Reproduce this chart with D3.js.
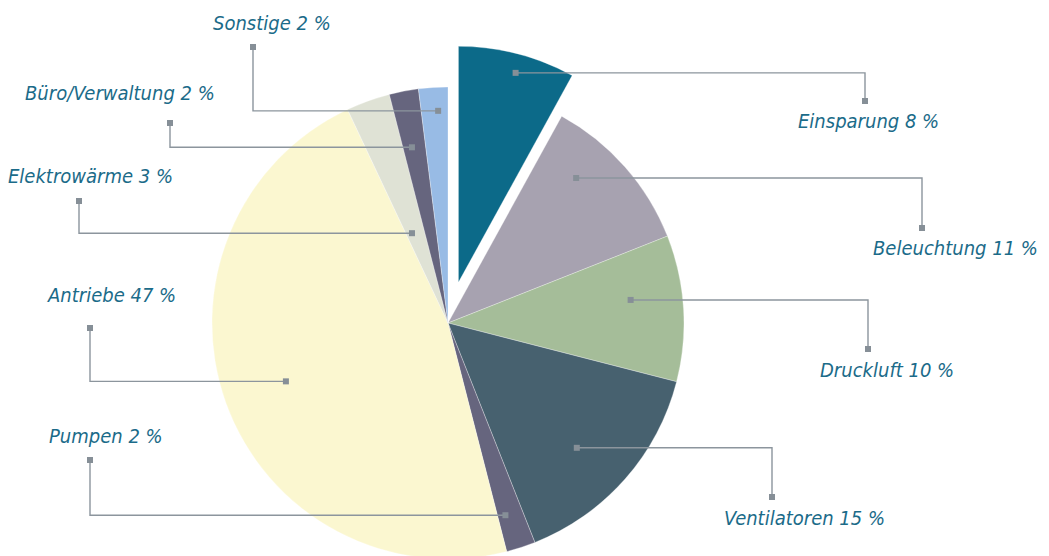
<!DOCTYPE html>
<html>
<head>
<meta charset="utf-8">
<script src="https://cdn.jsdelivr.net/npm/d3@7"></script>
<style>
  body { margin: 0; background: #fff; }
  .lbl { font-family: "DejaVu Sans Condensed", "Liberation Sans Narrow", sans-serif;
         font-style: italic; font-size: 20px; fill: #1b6b89; }
</style>
</head>
<body>
<svg id="chart"></svg>
<script>
// data, clockwise from 12 o'clock
const categories = ["Einsparung", "Beleuchtung", "Druckluft", "Ventilatoren", "Pumpen",
                    "Antriebe", "Elektrowärme", "Büro/Verwaltung", "Sonstige"];
const shares = [8, 11, 10, 15, 2, 47, 3, 2, 2];
const colors = ["#0c6a89", "#a7a2b0", "#a5bd99", "#47616f", "#66657e",
                "#fbf7d0", "#dfe2d5", "#66657e", "#98bbe5"];
const exploded = "Einsparung";

// leader lines: dot inside the slice (t = share of slice angle, k = share of radius),
// elbow x, end y, label start x / baseline y
const leaders = {
  "Einsparung":      { t: 0.53, k: 0.92, ex: 865, ey: 101, lx: 798, ly: 128 },
  "Beleuchtung":     { t: 0.32, k: 0.82, ex: 922, ey: 228, lx: 873, ly: 255 },
  "Druckluft":       { t: 0.40, k: 0.78, ex: 868, ey: 349, lx: 820, ly: 377 },
  "Ventilatoren":    { t: 0.55, k: 0.76, ex: 772, ey: 497, lx: 724, ly: 525 },
  "Pumpen":          { t: 0.69, k: 0.85, ex: 90,  ey: 460, lx: 49,  ly: 443 },
  "Antriebe":        { t: 0.50, k: 0.73, ex: 90,  ey: 328, lx: 48,  ly: 302 },
  "Elektrowärme":    { t: 0.31, k: 0.41, ex: 79,  ey: 201, lx: 8,   ly: 183 },
  "Büro/Verwaltung": { t: 0.39, k: 0.76, ex: 170, ey: 123, lx: 25,  ly: 100 },
  "Sonstige":        { t: 0.63, k: 0.90, ex: 253, ey: 47,  lx: 213, ly: 30 }
};

const width = 1049, height = 556;
const cx = 448, cy = 323, radius = 236, explodeBy = 42;

const svg = d3.select("#chart").attr("width", width).attr("height", height);

const rows = categories.map((c, i) => ({ name: c, value: shares[i], color: colors[i] }));
const pie = d3.pie().value(d => d.value).sort(null);
const arc = d3.arc().innerRadius(0).outerRadius(radius);
const arcs = pie(rows);

const offset = d => {
  if (d.data.name !== exploded) return [0, 0];
  const a = (d.startAngle + d.endAngle) / 2;
  return [Math.sin(a) * explodeBy, -Math.cos(a) * explodeBy];
};

const g = svg.append("g").attr("transform", `translate(${cx},${cy})`);

g.selectAll("path.slice")
  .data(arcs)
  .join("path")
  .attr("class", "slice")
  .attr("d", arc)
  .attr("transform", d => `translate(${offset(d)})`)
  .attr("fill", d => d.data.color)
  .attr("stroke", "#fff")
  .attr("stroke-width", 0.5)
  .attr("stroke-opacity", 0.6);

// leader lines
const lines = arcs.map(d => {
  const L = leaders[d.data.name];
  const a = d.startAngle + (d.endAngle - d.startAngle) * L.t;
  const [ox, oy] = offset(d);
  const px = cx + ox + Math.sin(a) * radius * L.k;
  const py = cy + oy - Math.cos(a) * radius * L.k;
  return { name: d.data.name, value: d.data.value, px, py, L };
});

const lg = svg.append("g");
lg.selectAll("polyline")
  .data(lines)
  .join("polyline")
  .attr("points", d => `${d.px},${d.py} ${d.L.ex},${d.py} ${d.L.ex},${d.L.ey}`)
  .attr("fill", "none")
  .attr("stroke", "#8c959d")
  .attr("stroke-width", 1.4);

const sq = 6;
lg.selectAll("rect.start")
  .data(lines)
  .join("rect")
  .attr("class", "start")
  .attr("x", d => d.px - sq / 2).attr("y", d => d.py - sq / 2)
  .attr("width", sq).attr("height", sq)
  .attr("fill", "#868f97");
lg.selectAll("rect.end")
  .data(lines)
  .join("rect")
  .attr("class", "end")
  .attr("x", d => d.L.ex - sq / 2).attr("y", d => d.L.ey - sq / 2)
  .attr("width", sq).attr("height", sq)
  .attr("fill", "#868f97");

svg.append("g").selectAll("text")
  .data(lines)
  .join("text")
  .attr("class", "lbl")
  .attr("x", d => d.L.lx)
  .attr("y", d => d.L.ly)
  .text(d => `${d.name} ${d.value} %`);
</script>
</body>
</html>
